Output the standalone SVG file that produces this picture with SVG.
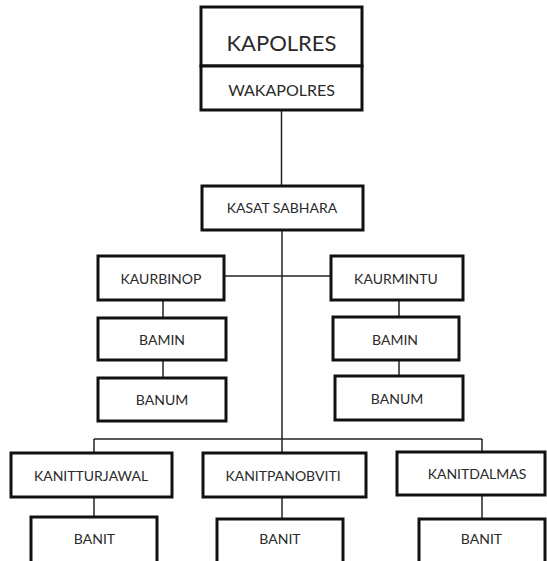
<svg xmlns="http://www.w3.org/2000/svg" width="547" height="561" viewBox="0 0 547 561">
<style>
.box{fill:#fff;stroke:#111;stroke-width:3}
.ln{stroke:#222;stroke-width:1.5;fill:none}
.t{font-family:Lato,"Open Sans",sans-serif;font-size:14px;fill:#2a2a2a;text-anchor:middle;dominant-baseline:central}
.big{font-size:22px}
.mid{font-size:16px}
</style>
<rect width="547" height="561" fill="#fff"/>
<g id="connectors">
<line class="ln" x1="281.5" y1="110" x2="281.5" y2="186"/>
<line class="ln" x1="282" y1="230" x2="282" y2="453"/>
<line class="ln" x1="224" y1="276" x2="331" y2="276"/>
<line class="ln" x1="163" y1="300" x2="163" y2="318"/>
<line class="ln" x1="163" y1="360" x2="163" y2="378"/>
<line class="ln" x1="399" y1="300" x2="399" y2="317"/>
<line class="ln" x1="399" y1="360" x2="399" y2="376"/>
<line class="ln" x1="94" y1="439" x2="482" y2="439"/>
<line class="ln" x1="94" y1="439" x2="94" y2="453"/>
<line class="ln" x1="482" y1="439" x2="482" y2="452"/>
<line class="ln" x1="94" y1="497" x2="94" y2="517"/>
<line class="ln" x1="282" y1="497" x2="282" y2="519"/>
<line class="ln" x1="482" y1="495" x2="482" y2="519"/>
</g>
<g id="kapolres"><rect class="box" x="201" y="7" width="161" height="59"/><text class="t big" x="281.5" y="42">KAPOLRES</text></g>
<g id="wakapolres"><rect class="box" x="201" y="66" width="161" height="44"/><text class="t mid" x="281.5" y="89">WAKAPOLRES</text></g>
<g id="kasat"><rect class="box" x="202" y="186" width="161" height="44"/><text class="t" x="282" y="207">KASAT SABHARA</text></g>
<g id="kaurbinop"><rect class="box" x="98" y="256" width="126" height="44"/><text class="t" x="161" y="278">KAURBINOP</text></g>
<g id="kaurmintu"><rect class="box" x="331" y="256" width="132" height="44"/><text class="t" x="396" y="278">KAURMINTU</text></g>
<g id="bamin-l"><rect class="box" x="98" y="318" width="128" height="42"/><text class="t" x="162" y="339">BAMIN</text></g>
<g id="bamin-r"><rect class="box" x="333" y="317" width="126" height="43"/><text class="t" x="395" y="339">BAMIN</text></g>
<g id="banum-l"><rect class="box" x="98" y="378" width="128" height="43"/><text class="t" x="162" y="399">BANUM</text></g>
<g id="banum-r"><rect class="box" x="335" y="376" width="128" height="44"/><text class="t" x="397" y="398">BANUM</text></g>
<g id="kanitturjawal"><rect class="box" x="11" y="453" width="161" height="44"/><text class="t" x="91" y="475">KANITTURJAWAL</text></g>
<g id="kanitpanobviti"><rect class="box" x="203" y="453" width="163" height="44"/><text class="t" x="283" y="475">KANITPANOBVITI</text></g>
<g id="kanitdalmas"><rect class="box" x="397" y="452" width="148" height="43"/><text class="t" x="477" y="473">KANITDALMAS</text></g>
<g id="banit-1"><rect class="box" x="31" y="517" width="126" height="50"/><text class="t" x="94.5" y="538">BANIT</text></g>
<g id="banit-2"><rect class="box" x="217" y="519" width="126" height="50"/><text class="t" x="280" y="538">BANIT</text></g>
<g id="banit-3"><rect class="box" x="419" y="519" width="126" height="50"/><text class="t" x="481.5" y="538">BANIT</text></g>
</svg>
